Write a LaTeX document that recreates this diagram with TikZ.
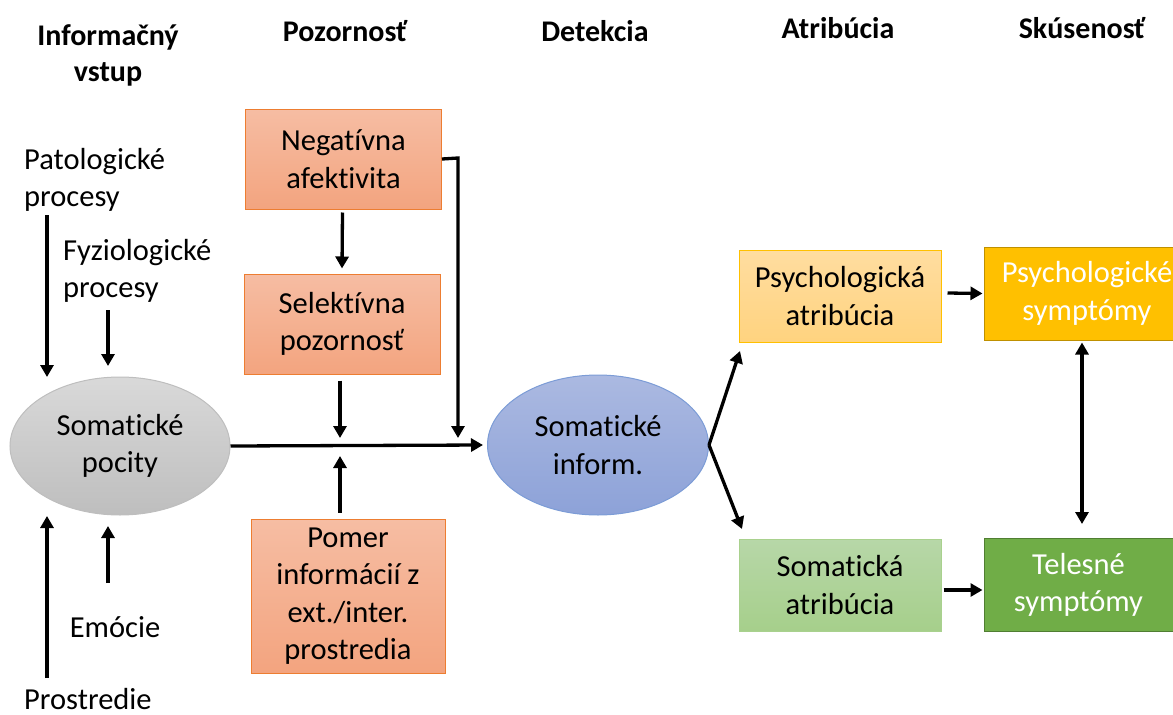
\documentclass[tikz,border=0pt]{standalone}
\usepackage{fontspec}
\setmainfont{Carlito}[Ligatures={NoCommon}]
\usetikzlibrary{arrows.meta,shapes.geometric,calc}

\definecolor{orangeT}{HTML}{F6BDA3}
\definecolor{orangeB}{HTML}{F3A47F}
\definecolor{orangeL}{HTML}{ED7D31}
\definecolor{yelT}{HTML}{FFDDA0}
\definecolor{yelB}{HTML}{FFD37F}
\definecolor{yelL}{HTML}{FFC000}
\definecolor{gold}{HTML}{FFC000}
\definecolor{goldL}{HTML}{BF9000}
\definecolor{grnT}{HTML}{B7D7A8}
\definecolor{grnB}{HTML}{A6CF8B}
\definecolor{grnL}{HTML}{A9D18E}
\definecolor{green}{HTML}{70AD47}
\definecolor{greenL}{HTML}{507E32}
\definecolor{greyT}{HTML}{D9D9D9}
\definecolor{greyB}{HTML}{BEBEBE}
\definecolor{blueT}{HTML}{ABB9E1}
\definecolor{blueB}{HTML}{8DA2D8}
\definecolor{blueL}{HTML}{4472C4}

\tikzset{
  txt/.style={font=\fontsize{30.5}{37.5}\selectfont, align=center, inner sep=0pt},
  head/.style={font=\fontsize{30}{36}\selectfont\bfseries, align=center, inner sep=0pt},
  lbl/.style={font=\fontsize{30.5}{37.5}\selectfont, align=left, inner sep=0pt, anchor=west},
  obox/.style={txt, draw=orangeL, line width=1pt, top color=orangeT, bottom color=orangeB,
    minimum width=196, minimum height=100},
  ybox/.style={txt, draw=yelL, line width=1pt, top color=yelT, bottom color=yelB,
    minimum width=202, minimum height=92},
  gbox/.style={txt, draw=grnL, line width=1pt, top color=grnT, bottom color=grnB,
    minimum width=202, minimum height=92},
  sbox/.style={txt, text=white, line width=1pt, minimum height=93},
  arr/.style={line width=3.3pt, -{Triangle[length=12pt,width=13pt]}},
  darr/.style={line width=3.3pt, {Triangle[length=12pt,width=13pt]}-{Triangle[length=12pt,width=13pt]}},
}

\begin{document}
\begin{tikzpicture}[x=1pt,y=-1pt]
\useasboundingbox (0,0) rectangle (1173,715);
\clip (0,0) rectangle (1173,715);

% column headings
\node[head] (h1) at (108,55) {Informačný\\vstup};
\node[head] (h2) at (345,31) {Pozornosť};
\node[head] (h3) at (595,31) {Detekcia};
\node[head] (h4) at (838,28) {Atribúcia};
\node[head] (h5) at (1082,28) {Skúsenosť};

% input labels
\node[lbl] (pat) at (24,180) {Patologické\\procesy};
\node[lbl] (fyz) at (63,271) {Fyziologické\\procesy};
\node[txt] (emo) at (115,627) {Emócie};
\node[lbl] (pro) at (24,699) {Prostredie};

% somatic sensations and information
\node[txt, ellipse, draw=greyB, line width=1pt, top color=greyT, bottom color=greyB,
  minimum width=220, minimum height=138] (poc) at (120,446) {Somatické\\pocity};
\node[txt, ellipse, draw=blueL!70, line width=1pt, top color=blueT, bottom color=blueB,
  minimum width=221, minimum height=140] (inf) at (598,445) {Somatické\\inform.};

% attention boxes
\node[obox] (neg) at (343.5,159) {Negatívna\\afektivita};
\node[obox] (sel) at (342,324) {Selektívna\\pozornosť};
\node[obox, minimum width=194, minimum height=154] (pom) at (348,596)
  {Pomer\\informácií z\\ext./inter.\\prostredia};

% attribution boxes
\node[ybox] (patr) at (840,296) {Psychologická\\atribúcia};
\node[gbox] (satr) at (840,585) {Somatická\\atribúcia};

% experience boxes
\node[sbox, draw=goldL, fill=gold, minimum width=206] (psym) at (1087,293.5) {Psychologické\\symptómy};
\node[sbox, draw=greenL, fill=green, minimum width=189] (tsym) at (1078.5,585) {Telesné\\symptómy};

% arrow end points
\coordinate (patS) at (47,215);
\coordinate (patE) at (47,377);
\coordinate (fyzS) at (108,310);
\coordinate (fyzE) at (108,366);
\coordinate (proS) at (47,678);
\coordinate (proE) at (47,516);
\coordinate (emoS) at (108,583);
\coordinate (emoE) at (108,526);
\coordinate (selE) at (340,438);
\coordinate (pomE) at (340,456);
\coordinate (negC) at (458,158);
\coordinate (negE) at (458,438);
\coordinate (patrE) at (740,351);
\coordinate (satrE) at (742,529);

% input arrows
\draw[arr] (patS) -- (patE);
\draw[arr] (fyzS) -- (fyzE);
\draw[arr] (proS) -- (proE);
\draw[arr] (emoS) -- (emoE);

% main flow
\draw[arr] (poc.east) -- ($(inf.west)+(-4,0)$);
\draw[arr] ($(neg.south)+(-1,3)$) -- ($(sel.north)+(0,-5)$);
\draw[arr] ($(sel.south)+(-2,6)$) -- (selE);
\draw[arr] ($(pom.north)+(-8,-6)$) -- (pomE);
\draw[arr] (neg.east) -- (negC) -- (negE);

% attribution
\draw[arr] (inf.east) -- (patrE);
\draw[arr] (inf.east) -- (satrE);
\draw[arr] ($(patr.east)+(6,-3)$) -- ($(psym.west)+(-1,0)$);
\draw[arr] ($(satr.east)+(2,5)$) -- ($(tsym.west)+(-1,5)$);
\draw[darr] ($(psym.south)+(-5,2)$) -- ($(tsym.north)+(3.5,-14)$);
\end{tikzpicture}
\end{document}
